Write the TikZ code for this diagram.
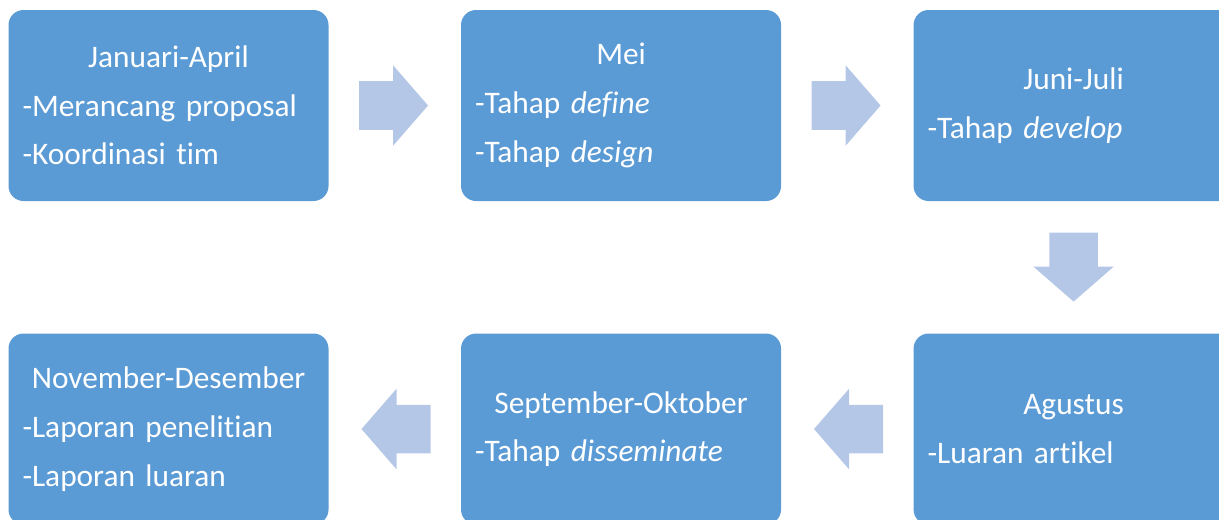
\documentclass[tikz,border=0pt]{standalone}
\usepackage{fontspec}
\setmainfont[Ligatures={NoCommon}]{Carlito}
\usepackage{xcolor}
\usetikzlibrary{calc, chains, positioning, shapes.arrows}
\definecolor{boxblue}{HTML}{5B9BD5}
\definecolor{arrowblue}{HTML}{B4C7E7}

\begin{document}
\begin{tikzpicture}[x=0.75pt, y=-0.75pt,
      box/.style={
        rectangle,
        rounded corners=11.25pt,
        fill=boxblue,
        text=white,
        font=\fontsize{23.5pt}{36.5pt}\selectfont,
        align=left,
        text width=219pt,
        inner xsep=10.5pt,
        minimum width=240pt,
        minimum height=143.25pt
      },
      flow/.style={
        single arrow,
        fill=arrowblue,
        anchor=tail,
        inner xsep=0pt,
        inner ysep=18pt,
        minimum height=51.75pt,
        single arrow head extend=12pt,
        single arrow tip angle=98
      },
      flowdown/.style={
        flow,
        shape border rotate=270,
        inner xsep=18pt,
        inner ysep=0pt
      },
      flowleft/.style={
        flow,
        shape border rotate=180
      },
      node distance=99pt,
      start chain=going right]
    \useasboundingbox (0,0) rectangle (1219,519);
    \node[box,on chain] (jan) at (168.5,105.5) {\makebox[\hsize]{Januari-April}\\-Merancang proposal\\-Koordinasi tim};
    \node[box,on chain] (mei) {\makebox[\hsize]{Mei}\\-Tahap \textit{define}\\-Tahap \textit{design}};
    \node[box,on chain] (juni) {\makebox[\hsize]{Juni-Juli}\\-Tahap \textit{develop}};
    \begin{scope}[continue chain=going below]
      \node[box,on chain] (agu) {\makebox[\hsize]{Agustus}\\-Luaran artikel};
    \end{scope}
    \begin{scope}[continue chain=going left]
      \node[box,on chain] (sep) {\makebox[\hsize]{September-Oktober}\\-Tahap \textit{disseminate}};
      \node[box,on chain] (nov) {\makebox[\hsize]{November-Desember}\\-Laporan penelitian\\-Laporan luaran};
    \end{scope}
    \node[flow] (a1) at ($(jan.east)+(30,0)$) {};
    \node[flow] (a2) at ($(mei.east)+(30,0)$) {};
    \node[flowdown] (a3) at ($(juni.south)+(0,31)$) {};
    \node[flowleft] (a4) at ($(agu.west)+(-30,0)$) {};
    \node[flowleft] (a5) at ($(sep.west)+(-30,0)$) {};
  \end{tikzpicture}
\end{document}
